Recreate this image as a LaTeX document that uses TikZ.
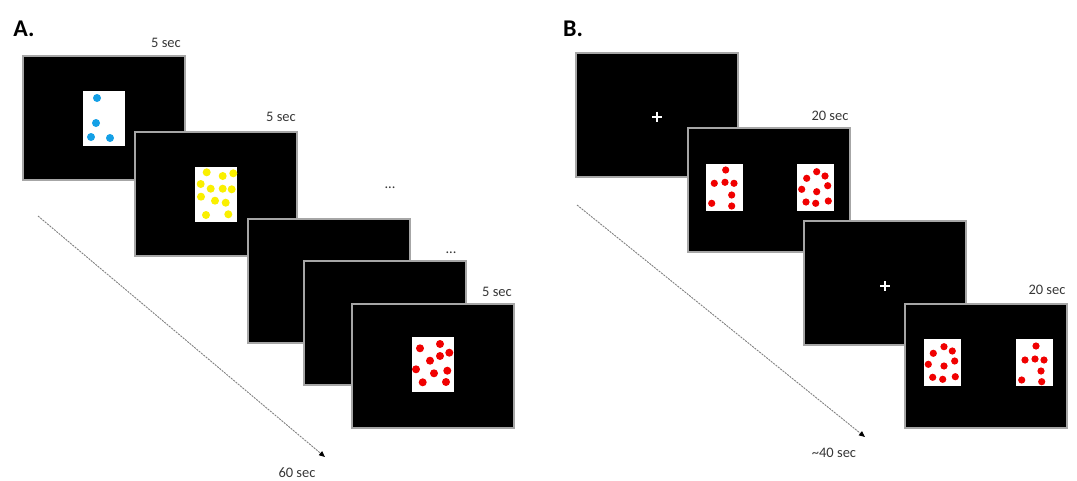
\documentclass[tikz,border=0pt]{standalone}
\usepackage{fontspec}
\setmainfont{Carlito}
\usetikzlibrary{arrows.meta}
\definecolor{dotblue}{RGB}{20,160,230}
\definecolor{dotyellow}{RGB}{250,240,0}
\definecolor{dotred}{RGB}{240,0,0}
\definecolor{labelgray}{RGB}{55,55,55}
\tikzset{
  screen/.style={draw=gray!70, line width=2.6pt, fill=black, anchor=north west,
    minimum width=162pt, minimum height=124pt, inner sep=0pt, outer sep=0pt},
  cardA/.style={fill=white, anchor=north west, minimum width=42pt, minimum height=55pt, inner sep=0pt},
  cardB/.style={fill=white, anchor=north west, minimum width=37pt, minimum height=47pt, inner sep=0pt},
  timelbl/.style={text=labelgray, font=\fontsize{14.5}{16}\selectfont, inner sep=0pt},
  panel/.style={font=\fontsize{24}{28}\selectfont\bfseries, inner sep=0pt},
  timeline/.style={draw=gray, line width=0.9pt, dash pattern=on 2pt off 1pt,
    -{Triangle[length=6pt,width=5pt,fill=black,color=black]}},
  fixcross/.style={draw=white, line width=2pt}
}
\begin{document}
\begin{tikzpicture}[x=1pt,y=-1pt]
\useasboundingbox (0,0) rectangle (1077,480);

% ---------------- Panel A ----------------
\node[panel] (labA) at (24,29) {A.};

\node[screen] (a1) at (23,56) {};
\node[cardA] (c1) at (83,91) {};
\foreach \p in {(97,98),(96,123),(91,137),(110,138)}
  \fill[dotblue] \p circle[radius=4];
\node[timelbl] (t1) at (166,43) {5 sec};

\node[screen] (a2) at (135,132) {};
\node[cardA] (c2) at (195,167) {};
\foreach \p in {(206.7,172.3),(222.7,176),(233.3,173.3),(200.7,184),(210.7,188.7),
  (222.7,188.7),(231.7,189.3),(201,196.7),(215,200.7),(225.7,202.7),(206,215),(228.3,214.3)}
  \fill[dotyellow] \p circle[radius=4];
\node[timelbl] (t2) at (281,117) {5 sec};

\node[timelbl] (d1) at (390,188) {...};
\node[screen] (a3) at (248,219) {};
\node[timelbl] (d2) at (451,253) {...};
\node[screen] (a4) at (304,261) {};
\node[screen] (a5) at (352,304) {};
\node[cardA] (c5) at (412,337) {};
\foreach \p in {(420,348.3),(440,344),(449.3,352.7),(440,356),(430,360.7),
  (416,369.3),(434,373.3),(447.3,370.7),(422.7,382.3),(446,382)}
  \fill[dotred] \p circle[radius=4];
\node[timelbl] (t5) at (497,292) {5 sec};

\coordinate (sA) at (38,216);
\coordinate (eA) at (325,457);
\draw[timeline] (sA) -- (eA);
\node[timelbl] (tA) at (297,473) {60 sec};

% ---------------- Panel B ----------------
\node[panel] (labB) at (573,29) {B.};

\node[screen] (b1) at (576,53) {};
\draw[fixcross] (652,116.5) -- (662,116.5) (657,111.5) -- (657,121.5);

\node[screen] (b2) at (688,128) {};
\node[cardB] (cb2l) at (706,164) {};
\node[cardB] (cb2r) at (797,164) {};
\foreach \p in {(725.7,170),(714.3,183.3),(725,182.3),(734,183.3),(731.7,195),(711.7,203.3),(731.7,206),
  (816.7,171.7),(806.7,178.3),(825,176),(827.7,185.7),(801.7,189.3),(816.7,191.7),(806,202),(815.7,203.3),(828.3,201)}
  \fill[dotred] \p circle[radius=3.6];
\node[timelbl] (t6) at (830,116) {20 sec};

\node[screen] (b3) at (804,221) {};
\draw[fixcross] (880,286) -- (890,286) (885,281) -- (885,291);

\node[screen] (b4) at (905,304) {};
\node[cardB] (cb4l) at (924,339) {};
\node[cardB] (cb4r) at (1016,339) {};
\foreach \p in {(933.3,353.3),(944,346.7),(952.3,351),(928.3,364.3),(944,366),(954.7,361),(932.7,377.3),(942.7,379.3),(955.3,376.7),
  (1036,346),(1025,360),(1035,359),(1044,360),(1041,371),(1021.7,380),(1041.7,381.7)}
  \fill[dotred] \p circle[radius=3.6];
\node[timelbl] (t8) at (1047,290) {20 sec};

\coordinate (sB) at (577,205);
\coordinate (eB) at (865,437);
\draw[timeline] (sB) -- (eB);
\node[timelbl] (tB) at (834,453) {\textasciitilde 40 sec};
\end{tikzpicture}
\end{document}
